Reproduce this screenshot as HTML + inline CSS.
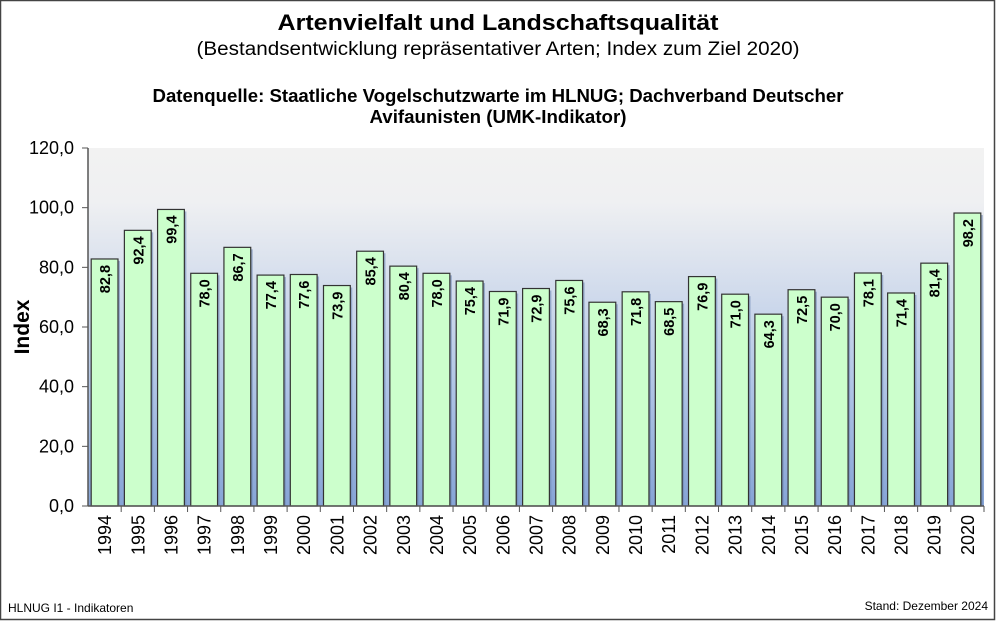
<!DOCTYPE html>
<html><head><meta charset="utf-8"><style>
html,body{margin:0;padding:0;background:#fff;}
svg{display:block;font-family:"Liberation Sans",Arial,sans-serif;}
</style></head><body>
<svg width="996" height="622" viewBox="0 0 996 622" xmlns="http://www.w3.org/2000/svg">
<defs>
<linearGradient id="bg" x1="0" y1="0" x2="0" y2="1">
<stop offset="0" stop-color="#f2f2f2"/>
<stop offset="0.15" stop-color="#eff0f2"/>
<stop offset="0.32" stop-color="#dbe2ee"/>
<stop offset="0.65" stop-color="#b2c6e6"/>
<stop offset="1" stop-color="#86a4d6"/>
</linearGradient>
</defs>
<rect x="0.5" y="0.5" width="994" height="619" fill="#fff" stroke="#444" stroke-width="1.5"/>
<text x="498" y="30" text-anchor="middle" font-size="22" font-weight="bold" textLength="441" lengthAdjust="spacingAndGlyphs">Artenvielfalt und Landschaftsqualität</text>
<text x="498" y="55" text-anchor="middle" font-size="19" textLength="603" lengthAdjust="spacingAndGlyphs">(Bestandsentwicklung repräsentativer Arten; Index zum Ziel 2020)</text>
<text x="498" y="102" text-anchor="middle" font-size="18" font-weight="bold" textLength="691" lengthAdjust="spacingAndGlyphs">Datenquelle: Staatliche Vogelschutzwarte im HLNUG; Dachverband Deutscher</text>
<text x="498" y="123" text-anchor="middle" font-size="18" font-weight="bold" textLength="257" lengthAdjust="spacingAndGlyphs">Avifaunisten (UMK-Indikator)</text>
<rect x="88" y="148" width="896" height="358" fill="url(#bg)"/>
<g id="bars"></g>
<line x1="88" y1="148" x2="88" y2="506" stroke="#555" stroke-width="1.5"/>
<line x1="88" y1="506" x2="984" y2="506" stroke="#555" stroke-width="1.5"/>
<g id="yax" font-size="18" text-anchor="end"></g>
<text transform="translate(29,327) rotate(-90)" text-anchor="middle" font-size="21" font-weight="bold">Index</text>
<text x="8" y="612" font-size="12">HLNUG I1 - Indikatoren</text>
<text x="988" y="610" text-anchor="end" font-size="12">Stand: Dezember 2024</text>
</svg>
<script>
var v=[82.8,92.4,99.4,78.0,86.7,77.4,77.6,73.9,85.4,80.4,78.0,75.4,71.9,72.9,75.6,68.3,71.8,68.5,76.9,71.0,64.3,72.5,70.0,78.1,71.4,81.4,98.2];
var ns="http://www.w3.org/2000/svg",g=document.getElementById('bars'),s=document.querySelector('svg');
function el(t,a,p){var e=document.createElementNS(ns,t);for(var k in a)e.setAttribute(k,a[k]);(p||s).appendChild(e);return e;}
var x0=88,w=896/27,y0=506,k=358/120;
v.forEach(function(d,i){
 var x=x0+i*w+3.2,bw=w-6.4,h=d*k,y=y0-h;
 el('rect',{x:x+2,y:y+2,width:bw,height:h-2,fill:'#6f88b4',opacity:0.6},g);
 el('rect',{x:x,y:y,width:bw,height:h,fill:'#ccffcc',stroke:'#333','stroke-width':1.2},g);
 var t=el('text',{transform:'translate('+(x+bw/2+5.5)+','+(y+6)+') rotate(-90)','text-anchor':'end','font-size':14.5,'font-weight':'bold'},g);
 t.textContent=d.toFixed(1).replace('.',',');
 var tx=x0+(i+1)*w;
 el('line',{x1:tx,y1:506,x2:tx,y2:512,stroke:'#555'});
 var yl=el('text',{transform:'translate('+(x0+i*w+w/2+6.5)+',515) rotate(-90)','text-anchor':'end','font-size':18});
 yl.textContent=1994+i;
});
var ya=document.getElementById('yax');
for(var j=0;j<=6;j++){var yy=y0-j*20*k;
 el('line',{x1:82,y1:yy,x2:88,y2:yy,stroke:'#555'});
 var t=el('text',{x:74,y:yy+6},ya);t.textContent=(j*20).toFixed(1).replace('.',',');}
</script>
</body></html>
